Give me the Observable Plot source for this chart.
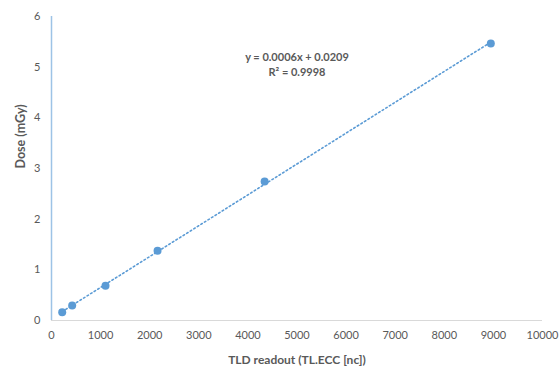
<!DOCTYPE html>
<html>
<head>
<meta charset="utf-8">
<script src="https://cdn.jsdelivr.net/npm/d3@7"></script>
<script src="https://cdn.jsdelivr.net/npm/@observablehq/plot@0.6"></script>
<style>
  html, body { margin: 0; padding: 0; background: #fff; }
  #chart svg { display: block; }
</style>
</head>
<body>
<div id="chart"></div>
<script>
const readout = [218, 421, 1100, 2160, 4341, 8947];
const dose = [0.164, 0.296, 0.685, 1.375, 2.743, 5.467];
const xTicks = [0, 1000, 2000, 3000, 4000, 5000, 6000, 7000, 8000, 9000, 10000];
const yTicks = [0, 1, 2, 3, 4, 5, 6];
const equationText = ["y = 0.0006x + 0.0209", "R² = 0.9998"];
const equationX = [5000, 5000];
const equationY = [5.19, 4.9];
const xLabel = "TLD readout (TL.ECC [nc])";
const yLabel = "Dose (mGy)";

const points = readout.map((x, i) => ({x, y: dose[i]}));
const eq = equationText.map((t, i) => ({t, x: equationX[i], y: equationY[i]}));

const font = "Lato, 'Open Sans', sans-serif";
const chart = Plot.plot({
  width: 559,
  height: 369,
  marginLeft: 51,
  marginRight: 17,
  marginTop: 16,
  marginBottom: 49,
  style: {fontFamily: font, fontSize: "11px", color: "#595959", background: "#fff"},
  x: {domain: [0, 10000], ticks: xTicks},
  y: {domain: [0, 6], ticks: yTicks},
  marks: [
    Plot.axisX({ticks: xTicks, tickFormat: d3.format("d"), tickSize: 0, tickPadding: 11, label: null, fill: "#595959", fontSize: 11}),
    Plot.axisY({ticks: yTicks, tickFormat: d3.format("d"), tickSize: 0, tickPadding: 11, label: null, fill: "#595959", fontSize: 11}),
    Plot.ruleY([0], {stroke: "#d9d9d9", strokeWidth: 1}),
    Plot.ruleX([0], {stroke: "#9dc3e6", strokeWidth: 1.5}),
    Plot.linearRegressionY(points, {x: "x", y: "y", ci: 0, stroke: "#5b9bd5", strokeWidth: 1.6, strokeDasharray: "1.6,2.6"}),
    Plot.dot(points, {x: "x", y: "y", r: 4, fill: "#5b9bd5", stroke: "none"}),
    Plot.text(eq, {x: "x", y: "y", text: "t", fill: "#595959", fontWeight: "bold", fontSize: 11}),
    Plot.text([xLabel], {frameAnchor: "bottom", dy: 43, fill: "#595959", fontWeight: "bold", fontSize: 12}),
    Plot.text([yLabel], {frameAnchor: "left", dx: -31, rotate: -90, fill: "#595959", fontWeight: "bold", fontSize: 12.5})
  ]
});
document.getElementById("chart").appendChild(chart);
</script>
</body>
</html>
